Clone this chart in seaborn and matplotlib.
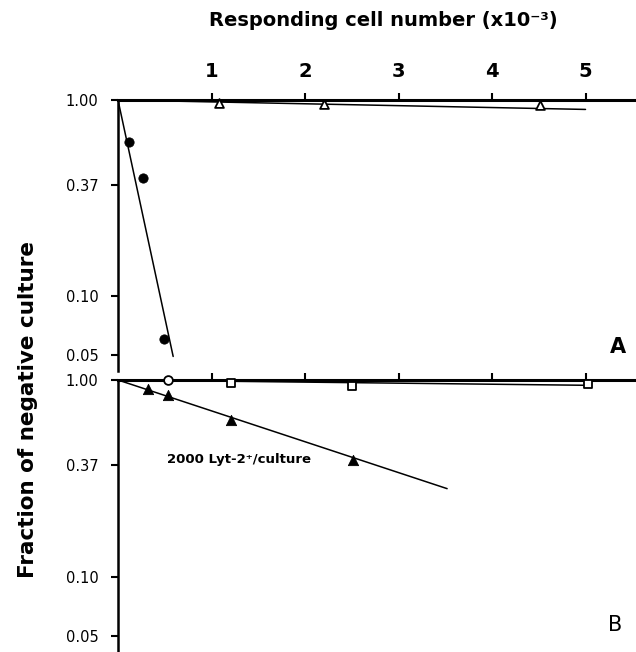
import numpy as np
import matplotlib
matplotlib.use("Agg")
import matplotlib.pyplot as plt
from matplotlib.ticker import NullLocator, FixedLocator
import seaborn as sns

sns.set_style("ticks")
plt.rcParams['font.family'] = ['DejaVu Sans']
plt.rcParams['text.color'] = 'black'
plt.rcParams['axes.edgecolor'] = 'black'
plt.rcParams['xtick.color'] = 'black'
plt.rcParams['ytick.color'] = 'black'

# ---- data (x in thousands of responding cells) ----
# panel A
a_filled_x = [0.12, 0.27, 0.49]          # filled circles
a_filled_y = [0.61, 0.40, 0.060]
a_fit1_x = [0.0, 0.59]
a_fit1_y = [1.0, 0.049]

a_open_x = [1.08, 2.20, 4.51]            # open triangles
a_open_y = [0.965, 0.954, 0.943]
a_fit2_x = [0.0, 5.0]
a_fit2_y = [1.0, 0.895]

# panel B
b_circ_x = [0.53]                        # open circle
b_circ_y = [1.0]

b_sq_x = [1.21, 2.50, 5.03]              # open squares
b_sq_y = [0.965, 0.93, 0.954]
b_fit_sq_x = [0.0, 5.0]
b_fit_sq_y = [1.0, 0.94]

b_tri_x = [0.32, 0.53, 1.21, 2.51]       # filled triangles, 2000 Lyt-2+/culture
b_tri_y = [0.90, 0.84, 0.625, 0.39]
b_fit_tri_x = [0.0, 3.52]
b_fit_tri_y = [1.0, 0.28]

xticks = [1, 2, 3, 4, 5]
yticks = [1.0, 0.37, 0.10, 0.05]
ytick_labels = ['1.00', '0.37', '0.10', '0.05']

W, H = 636, 652
fig = plt.figure(figsize=(W / 100, H / 100), dpi=100)
left = 118 / W
axA = fig.add_axes([left, 1 - 371 / H, 1 - left, 271 / H])
axB = fig.add_axes([left, 0, 1 - left, 272 / H])


def style_axis(ax, show_xlabels):
    ax.set_yscale('log')
    ax.set_ylim(0.0413, 1.0)
    ax.set_xlim(0, 5.54)
    ax.yaxis.set_major_locator(FixedLocator(yticks))
    ax.set_yticklabels(ytick_labels)
    ax.yaxis.set_minor_locator(NullLocator())
    ax.set_xticks(xticks)
    ax.xaxis.tick_top()
    ax.spines['bottom'].set_visible(False)
    ax.spines['right'].set_visible(False)
    ax.spines['top'].set_linewidth(2.2)
    ax.spines['left'].set_linewidth(1.8)
    ax.tick_params(axis='x', direction='out', length=5, width=1.5, pad=9,
                   labelsize=14, labeltop=show_xlabels, labelbottom=False)
    ax.tick_params(axis='y', direction='out', length=5, width=1.5, pad=9,
                   labelsize=10.5)
    for t in ax.get_xticklabels():
        t.set_fontweight('bold')
    ax.set_xlabel('')
    ax.set_ylabel('')


# panel A
sns.lineplot(x=a_fit1_x, y=a_fit1_y, ax=axA, color='black', lw=1.1, sort=False)
sns.lineplot(x=a_fit2_x, y=a_fit2_y, ax=axA, color='black', lw=1.1, sort=False)
sns.scatterplot(x=a_filled_x, y=a_filled_y, ax=axA, marker='o', color='black',
                s=45, edgecolor='black', clip_on=False, zorder=5)
sns.scatterplot(x=a_open_x, y=a_open_y, ax=axA, marker='^', facecolor='white',
                edgecolor='black', linewidth=1.3, s=40, clip_on=False, zorder=5)
style_axis(axA, True)
axA.text(0.965, 0.09, 'A', transform=axA.transAxes, fontsize=15,
         fontweight='bold', ha='center', va='center')

# panel B
sns.lineplot(x=b_fit_sq_x, y=b_fit_sq_y, ax=axB, color='black', lw=1.1, sort=False)
sns.lineplot(x=b_fit_tri_x, y=b_fit_tri_y, ax=axB, color='black', lw=1.1, sort=False)
sns.scatterplot(x=b_tri_x, y=b_tri_y, ax=axB, marker='^', color='black',
                s=55, edgecolor='black', clip_on=False, zorder=5)
sns.scatterplot(x=b_sq_x, y=b_sq_y, ax=axB, marker='s', facecolor='white',
                edgecolor='black', linewidth=1.3, s=32, clip_on=False, zorder=5)
sns.scatterplot(x=b_circ_x, y=b_circ_y, ax=axB, marker='o', facecolor='white',
                edgecolor='black', linewidth=1.3, s=40, clip_on=False, zorder=6)
style_axis(axB, False)
axB.text(0.52, 0.395, '2000 Lyt-2\u207a/culture', fontsize=9.5,
         fontweight='bold', ha='left', va='center')
axB.text(0.96, 0.1, 'B', transform=axB.transAxes, fontsize=15,
         ha='center', va='center')

fig.text(383 / W, 1 - 21 / H, 'Responding cell number (x10\u207b\u00b3)',
         fontsize=14, fontweight='bold', ha='center', va='center')
fig.text(28 / W, 1 - 410 / H, 'Fraction of negative culture', rotation=90,
         fontsize=15.5, fontweight='bold', ha='center', va='center')

fig.savefig('out.png', dpi=100)
